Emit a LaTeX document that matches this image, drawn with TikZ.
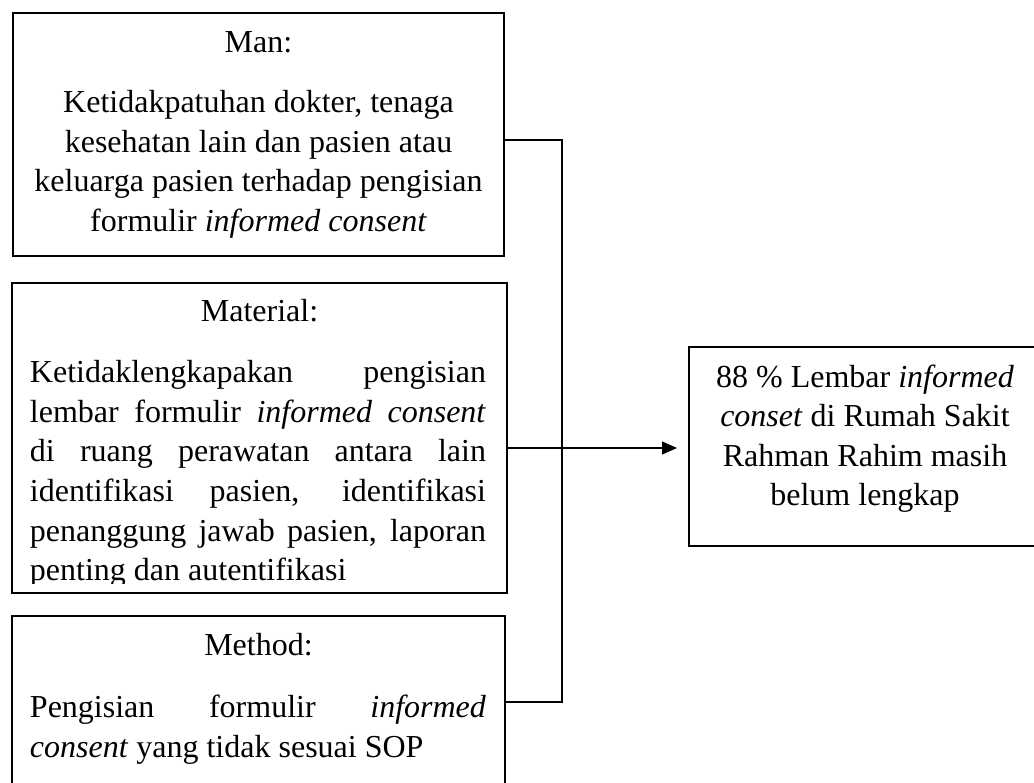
\documentclass[tikz,border=0pt]{standalone}
\usepackage{fontspec}
\setmainfont{Liberation Serif}
\usetikzlibrary{arrows.meta}
\begin{document}
\begin{tikzpicture}[x=1pt,y=-1pt,
  box/.style={draw=black, line width=1.2pt, rectangle, inner sep=0pt, outer sep=0pt, anchor=north west},
  resbox/.style={draw=black, line width=2.2pt, rectangle, inner sep=0pt, outer sep=0pt, anchor=north west},
  txt/.style={inner sep=0pt, outer sep=0pt, font=\fontsize{32}{39}\selectfont},
  conn/.style={draw=black, line width=1.2pt},
  arr/.style={conn, -{Triangle[length=15pt,width=13pt]}, shorten >=12pt}]
\useasboundingbox (0,0) rectangle (1034,783);
\clip (0,0) rectangle (1034,783);

% boxes
\node[box, minimum width=491pt, minimum height=243pt] (man) at (13,13) {};
\node[box, minimum width=495pt, minimum height=310pt] (mat) at (12,283) {};
\node[box, minimum width=493pt, minimum height=210pt] (met) at (12,616) {};
\node[resbox, minimum width=352pt, minimum height=199pt] (res) at (689,347) {};

% Man text
\node[txt, anchor=base] (m0) at (258.5,53) {Man:};
\node[txt, anchor=base] (m1) at (258.5,113) {Ketidakpatuhan dokter, tenaga};
\node[txt, anchor=base] (m2) at (258.5,152.5) {kesehatan lain dan pasien atau};
\node[txt, anchor=base] (m3) at (258.5,192) {keluarga pasien terhadap pengisian};
\node[txt, anchor=base] (m4) at (258.5,231.5) {formulir \textit{informed consent}};

% Material text
\node[txt, anchor=base] (a0) at (259.5,322) {Material:};
\begin{scope}
\clip (12,283) rectangle (507,583);
\node[txt, anchor=base west] (a1) at (30,383) {\makebox[456pt][s]{Ketidaklengkapakan pengisian}};
\node[txt, anchor=base west] (a2) at (30,422.5) {\makebox[456pt][s]{lembar formulir \textit{informed consent}}};
\node[txt, anchor=base west] (a3) at (30,462) {\makebox[456pt][s]{di ruang perawatan antara lain}};
\node[txt, anchor=base west] (a4) at (30,501.5) {\makebox[456pt][s]{identifikasi pasien, identifikasi}};
\node[txt, anchor=base west] (a5) at (30,541) {\makebox[456pt][s]{penanggung jawab pasien, laporan}};
\node[txt, anchor=base west] (a6) at (30,580.5) {penting dan autentifikasi};
\end{scope}

% Method text
\node[txt, anchor=base] (d0) at (258.5,655) {Method:};
\node[txt, anchor=base west] (d1) at (30,717) {\makebox[456pt][s]{Pengisian formulir \textit{informed}}};
\node[txt, anchor=base west] (d2) at (30,757) {\textit{consent} yang tidak sesuai SOP};

% Result text
\node[txt, anchor=base] (r1) at (865,388) {88 \% Lembar \textit{informed}};
\node[txt, anchor=base] (r2) at (865,427) {\textit{conset} di Rumah Sakit};
\node[txt, anchor=base] (r3) at (865,466.5) {Rahman Rahim masih};
\node[txt, anchor=base] (r4) at (865,505.5) {belum lengkap};

% connectors
\coordinate (jm) at (562,140);
\coordinate (ja) at (562,448);
\coordinate (jd) at (562,702);
\draw[conn] (man.east |- jm) -- (jm) -- (jd) -- (met.east |- jd);
\draw[conn] (mat.east |- ja) -- (ja);
\draw[arr] (ja) -- (res.west |- ja);
\end{tikzpicture}
\end{document}
